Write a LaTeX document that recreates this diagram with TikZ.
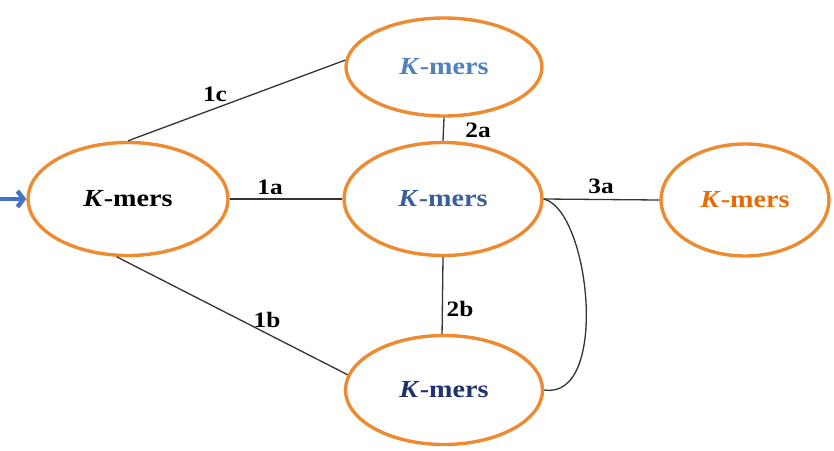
\documentclass[tikz,border=0pt]{standalone}
\usepackage{fontspec}
\setmainfont{Liberation Serif}[FakeStretch=1.15]
\usetikzlibrary{arrows.meta,shapes.geometric}
\definecolor{ell}{RGB}{237,139,50}
\definecolor{blueA}{RGB}{79,129,189}
\definecolor{blueB}{RGB}{55,96,156}
\definecolor{navy}{RGB}{31,50,110}
\definecolor{orangeT}{RGB}{228,108,10}
\definecolor{arr}{RGB}{68,114,196}
\begin{document}
\begin{tikzpicture}[x=1pt,y=-1pt,
  kmer/.style={draw=ell, line width=3.4pt, ellipse, inner sep=0pt, font=\fontsize{24.5}{27}\selectfont\bfseries},
  edge/.style={draw=black!80, line width=1.3pt},
  lbl/.style={font=\fontsize{22}{24}\selectfont\bfseries}]
\useasboundingbox (0,0) rectangle (834,450);
\node[kmer, minimum width=200pt, minimum height=113pt] (L) at (128,199) {\textit{K}-mers};
\node[kmer, minimum width=196pt, minimum height=98pt, text=blueA] (T) at (444,67) {\textit{K}-mers};
\node[kmer, minimum width=198pt, minimum height=113pt, text=blueB] (C) at (443,199) {\textit{K}-mers};
\node[kmer, minimum width=168pt, minimum height=112pt, text=orangeT] (R) at (745,200) {\textit{K}-mers};
\node[kmer, minimum width=197pt, minimum height=109pt, text=navy] (B) at (444,390) {\textit{K}-mers};
\coordinate (s) at (0,199);
\draw[arr, line width=4.5pt, -{Straight Barb[length=6pt,width=16pt]}] (s) -- (L.west);
\draw[edge] (L.north) -- (T.176);
\draw[edge] (L.east) -- (C.west);
\draw[edge] (L.259) -- (B.171);
\draw[edge] (T.south) -- (C.north);
\draw[edge] (C.south) -- (B.92);
\draw[edge] (C.east) -- (R.west);
\draw[edge] (C.east) .. controls (590,210) and (610,400) .. (B.east);
\node[lbl] (l1c) at (215,94) {1c};
\node[lbl] (l1a) at (270,187) {1a};
\node[lbl] (l1b) at (267,320) {1b};
\node[lbl] (l2a) at (478,130) {2a};
\node[lbl] (l2b) at (460,309) {2b};
\node[lbl] (l3a) at (601,186) {3a};
\end{tikzpicture}
\end{document}
